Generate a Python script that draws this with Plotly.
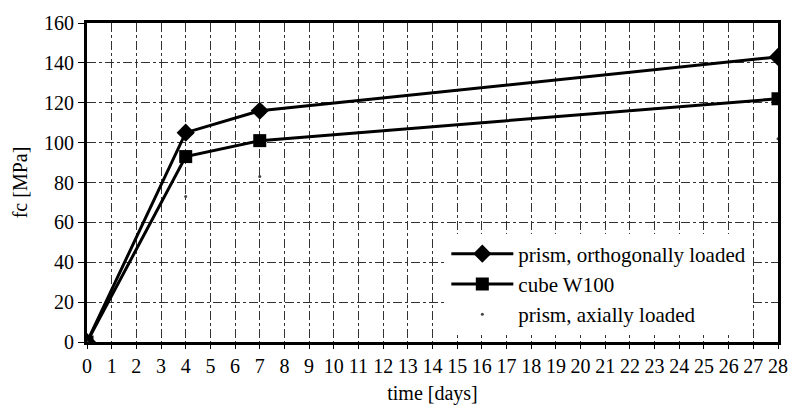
import plotly.graph_objects as go

days = [0, 4, 7, 28]
prism_orth = [0, 105, 116, 143]
cube_w100 = [0, 93, 101, 122]
axial_days = [0, 4, 7, 28]
prism_axial = [0, 73, 83, 102]
x_ticks = list(range(0, 29))
y_ticks = list(range(0, 161, 20))

font = "Liberation Serif"

fig = go.Figure()
fig.add_trace(go.Scatter(x=days, y=prism_orth, mode="lines+markers",
                         name="prism, orthogonally loaded",
                         line=dict(color="black", width=3),
                         marker=dict(symbol="diamond", size=14, color="black")))
fig.add_trace(go.Scatter(x=days, y=cube_w100, mode="lines+markers",
                         name="cube W100",
                         line=dict(color="black", width=3),
                         marker=dict(symbol="square", size=13, color="black")))
fig.add_trace(go.Scatter(x=axial_days, y=prism_axial, mode="markers",
                         name="prism, axially loaded",
                         marker=dict(symbol="circle", size=3, color="#444")))

fig.update_layout(
    width=800, height=413,
    margin=dict(l=87, r=13, t=20, b=71),
    paper_bgcolor="white", plot_bgcolor="white",
    font=dict(family=font, size=20, color="black"),
    showlegend=True,
    legend=dict(x=0.52, y=0.34, xanchor="left", yanchor="top",
                bgcolor="rgba(255,255,255,1)", borderwidth=0,
                font=dict(family=font, size=21), tracegroupgap=0,
                itemwidth=62),
)
fig.update_xaxes(range=[0, 28], tickvals=x_ticks, ticktext=[str(v) for v in x_ticks],
                 showline=True, linecolor="black", linewidth=3, mirror=True,
                 ticks="outside", ticklen=4, tickcolor="black",
                 showgrid=True, gridcolor="#333", gridwidth=1, griddash="dashdot",
                 zeroline=False,
                 title=dict(text="time [days]", font=dict(family=font, size=20), standoff=10),
                 tickfont=dict(family=font, size=20))
fig.update_yaxes(range=[0, 160], tickvals=y_ticks,
                 showline=True, linecolor="black", linewidth=3, mirror=True,
                 ticks="outside", ticklen=6, tickcolor="black",
                 showgrid=True, gridcolor="#333", gridwidth=1, griddash="dashdot",
                 zeroline=False,
                 title=dict(text="fc [MPa]", font=dict(family=font, size=20), standoff=12),
                 tickfont=dict(family=font, size=20))

fig.write_html("out.html")
